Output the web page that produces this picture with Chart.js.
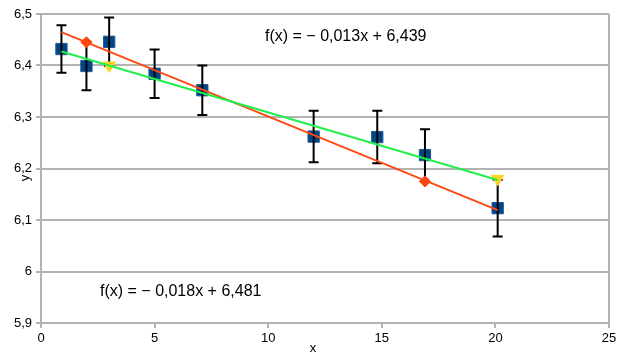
<!DOCTYPE html>
<html>
<head>
<meta charset="utf-8">
<script src="https://cdn.jsdelivr.net/npm/chart.js@4/dist/chart.umd.min.js"></script>
<style>
  html, body { margin: 0; padding: 0; background: #fff; }
  #wrap { width: 632px; height: 358px; position: relative; }
</style>
</head>
<body>
<div id="wrap"><canvas id="c" width="632" height="358"></canvas></div>
<script>
// ---- data ----
const measX   = [0.9, 2, 3, 5, 7.1, 12, 14.8, 16.9, 20.1];
const measY   = [6.432, 6.399, 6.446, 6.384, 6.352, 6.262, 6.261, 6.226, 6.123];
const measErr = [0.046, 0.047, 0.047, 0.047, 0.048, 0.050, 0.051, 0.050, 0.055];

const orangeX = [2, 16.9];
const orangeY = [6.445, 6.175];
const yellowX = [3, 20.1];
const yellowY = [6.400, 6.180];

// trend lines: slope, intercept (from the equations printed in the chart)
const trendOrange = { slope: -0.018, intercept: 6.481, label: 'f(x) = \u2212 0,018x + 6,481' };
const trendGreen  = { slope: -0.013, intercept: 6.439, label: 'f(x) = \u2212 0,013x + 6,439' };

const xTicks = [0, 5, 10, 15, 20, 25];
const yTicks = [5.9, 6.0, 6.1, 6.2, 6.3, 6.4, 6.5];

const xMinData = Math.min(...measX);
const xMaxData = Math.max(...measX);
function trendPoints(t) {
  return [xMinData, xMaxData].map(x => ({ x, y: t.slope * x + t.intercept }));
}
const pts = (xs, ys) => xs.map((x, i) => ({ x, y: ys[i] }));

function fmt(v) {
  return String(Number(v.toFixed(1))).replace('.', ',');
}

const FONT = "'Liberation Sans', Arial, sans-serif";

const errorBars = {
  id: 'errorBars',
  afterDatasetDraw(chart, args) {
    if (args.index !== 0) return;
    const ctx = chart.ctx, xs = chart.scales.x, ys = chart.scales.y;
    ctx.save();
    ctx.strokeStyle = '#000';
    ctx.lineWidth = 2;
    measX.forEach((x, i) => {
      const px = xs.getPixelForValue(x);
      const top = ys.getPixelForValue(measY[i] + measErr[i]);
      const bot = ys.getPixelForValue(measY[i] - measErr[i]);
      ctx.beginPath();
      ctx.moveTo(px, top); ctx.lineTo(px, bot);
      ctx.moveTo(px - 5, top); ctx.lineTo(px + 5, top);
      ctx.moveTo(px - 5, bot); ctx.lineTo(px + 5, bot);
      ctx.stroke();
    });
    ctx.restore();
  }
};

const texts = {
  id: 'texts',
  afterDraw(chart) {
    const ctx = chart.ctx, a = chart.chartArea;
    ctx.save();
    ctx.fillStyle = '#000';
    ctx.font = '16px ' + FONT;
    ctx.textBaseline = 'middle';
    ctx.textAlign = 'left';
    ctx.fillText(trendGreen.label, 265, 37);
    ctx.fillText(trendOrange.label, 100, 292);
    ctx.font = '13px ' + FONT;
    ctx.fillStyle = '#000';
    ctx.textAlign = 'center';
    ctx.fillText('x', (a.left + a.right) / 2 - 12, 348);
    ctx.translate(25, 178);
    ctx.rotate(-Math.PI / 2);
    ctx.fillText('y', 0, 0);
    ctx.restore();
  }
};

new Chart(document.getElementById('c'), {
  type: 'scatter',
  data: {
    datasets: [
      {
        data: pts(measX, measY),
        pointStyle: 'rect',
        pointRadius: 8,
        backgroundColor: '#004586',
        borderColor: '#1f5a94',
        borderWidth: 1,
        showLine: false,
        order: 5
      },
      {
        data: pts(orangeX, orangeY),
        pointStyle: 'rectRot',
        pointRadius: 5.5,
        backgroundColor: '#ff420e',
        borderColor: '#ff420e',
        borderWidth: 1,
        showLine: false,
        order: 4
      },
      {
        data: pts(yellowX, yellowY),
        pointStyle: 'triangle',
        rotation: 180,
        pointRadius: 7,
        backgroundColor: '#ffd320',
        borderColor: '#ffd320',
        borderWidth: 1,
        showLine: false,
        order: 3
      },
      {
        data: trendPoints(trendOrange),
        showLine: true,
        borderColor: '#ff4a14',
        borderWidth: 2,
        pointRadius: 0,
        fill: false,
        order: 2
      },
      {
        data: trendPoints(trendGreen),
        showLine: true,
        borderColor: '#22f04a',
        borderWidth: 2,
        pointRadius: 0,
        fill: false,
        order: 1
      }
    ]
  },
  options: {
    responsive: false,
    animation: false,
    devicePixelRatio: 1,
    layout: { padding: { top: 14, right: 23, left: 0, bottom: 0 } },
    plugins: { legend: { display: false }, tooltip: { enabled: false } },
    elements: { line: { tension: 0 } },
    scales: {
      x: {
        type: 'linear',
        min: xTicks[0],
        max: xTicks[xTicks.length - 1],
        afterBuildTicks(s) { s.ticks = xTicks.map(v => ({ value: v })); },
        afterFit(s) { s.height = 35; },
        ticks: { font: { family: FONT, size: 13 }, color: '#000', padding: 3, maxRotation: 0,
                 callback: v => fmt(v) },
        grid: {
          color: c => (c.tick && (c.tick.value === xTicks[0] || c.tick.value === xTicks[xTicks.length - 1])) ? '#b3b3b3' : 'rgba(0,0,0,0)',
          tickColor: '#b3b3b3',
          lineWidth: 2,
          tickLength: 5,
          drawTicks: true
        },
        border: { display: false }
      },
      y: {
        type: 'linear',
        min: yTicks[0],
        max: yTicks[yTicks.length - 1],
        afterBuildTicks(s) { s.ticks = yTicks.map(v => ({ value: v })); },
        afterFit(s) { s.width = 41; },
        ticks: { font: { family: FONT, size: 13 }, color: '#000', padding: 4,
                 callback: v => fmt(v) },
        grid: { color: '#b3b3b3', lineWidth: 2, tickLength: 5, tickColor: '#b3b3b3' },
        border: { display: false }
      }
    }
  },
  plugins: [errorBars, texts]
});
</script>
</body>
</html>
